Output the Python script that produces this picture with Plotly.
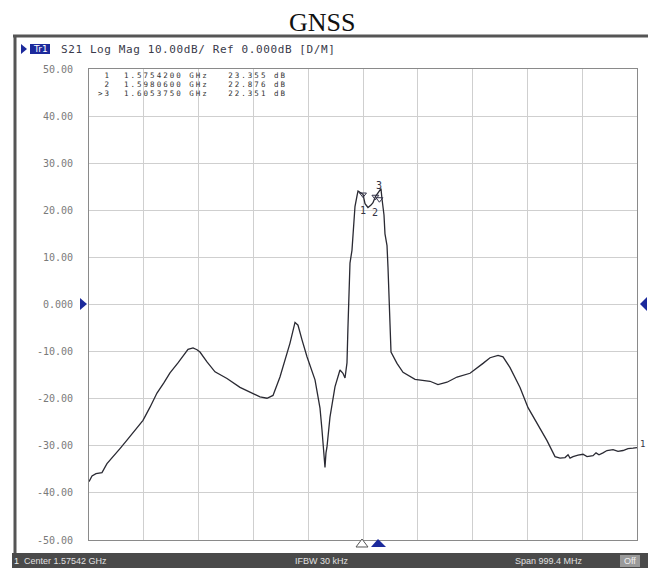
import plotly.graph_objects as go

# ---------------- data ----------------
freq_ghz = [1.0757, 1.0812, 1.0885, 1.0994, 1.1085, 1.1195, 1.1322, 1.1450, 1.1596, 1.1742,
            1.1870, 1.1997, 1.2125, 1.2234, 1.2380, 1.2490, 1.2563, 1.2654, 1.2727, 1.2781,
            1.2909, 1.3055, 1.3274, 1.3511, 1.3748, 1.3876, 1.4003, 1.4113, 1.4240, 1.4332,
            1.4423, 1.4514, 1.4569, 1.4642, 1.4733, 1.4879, 1.4970, 1.5006, 1.5043, 1.5061,
            1.5079, 1.5097, 1.5152, 1.5243, 1.5334, 1.5389, 1.5426, 1.5444, 1.5462, 1.5480,
            1.5498, 1.5517, 1.5553, 1.5571, 1.5589, 1.5608, 1.5644, 1.5663, 1.5699, 1.5754,
            1.5791, 1.5845, 1.5900, 1.5936, 1.5981, 1.6027, 1.6054, 1.6082, 1.6100, 1.6137,
            1.6155, 1.6192, 1.6210, 1.6229, 1.6247, 1.6265, 1.6374, 1.6484, 1.6703, 1.6976,
            1.7122, 1.7286, 1.7469, 1.7706, 1.7943, 1.8071, 1.8217, 1.8308, 1.8436, 1.8618,
            1.8764, 1.8928, 1.9110, 1.9256, 1.9348, 1.9439, 1.9494, 1.9530, 1.9585, 1.9676,
            1.9767, 1.9840, 1.9949, 2.0004, 2.0058, 2.0131, 2.0204, 2.0314, 2.0405, 2.0496,
            2.0587, 2.0678, 2.0751]
s21_db = [-37.6, -36.4, -35.9, -35.7, -33.8, -32.4, -30.6, -28.8, -26.6, -24.6,
          -21.8, -18.8, -16.6, -14.5, -12.4, -10.6, -9.5, -9.2, -9.6, -10.1,
          -12.2, -14.3, -15.7, -17.6, -18.8, -19.6, -19.9, -19.3, -15.4, -12.0,
          -8.2, -3.8, -4.4, -7.5, -11.1, -16.0, -22.0, -26.6, -31.0, -34.6,
          -31.5, -30.3, -23.9, -17.5, -13.9, -14.6, -15.6, -13.5, -12.4, -4.8,
          3.0, 8.8, 11.5, 14.3, 17.0, 20.8, 23.0, 24.1, 23.8, 23.4,
          21.4, 20.6, 21.1, 21.6, 22.9, 23.6, 24.2, 24.6, 22.5, 19.0,
          15.0, 12.5, 7.9, 1.0, -4.0, -10.1, -12.5, -14.4, -15.9, -16.3,
          -17.0, -16.5, -15.4, -14.6, -12.5, -11.3, -10.8, -11.1, -13.4, -17.6,
          -21.9, -25.3, -28.9, -32.3, -32.6, -32.5, -31.9, -32.6, -32.3, -32.0,
          -31.8, -32.3, -32.1, -31.5, -31.9, -31.5, -31.0, -30.8, -31.2, -31.0,
          -30.6, -30.5, -30.4]

marker_ids = ["1", "2", "3"]
marker_freq_ghz = [1.5754200, 1.5980600, 1.6053750]
marker_db = [23.355, 22.876, 22.351]

y_tick_vals = [50, 40, 30, 20, 10, 0, -10, -20, -30, -40, -50]
y_tick_text = ["50.00", "40.00", "30.00", "20.00", "10.00", "0.000",
               "-10.00", "-20.00", "-30.00", "-40.00", "-50.00"]

center_ghz = 1.57542
span_ghz = 0.9994
start_ghz = center_ghz - span_ghz / 2
stop_ghz = center_ghz + span_ghz / 2

header_text = "S21 Log Mag 10.00dB/ Ref 0.000dB [D/M]"
status_center = "Center 1.57542 GHz"
status_ifbw = "IFBW 30 kHz"
status_span = "Span 999.4 MHz"

# ---------------- layout geometry ----------------
# page body has an 8px margin; geometry below is in window pixels
OFF = 8
W, H = 656 - OFF, 572 - OFF
PL, PR, PT, PB = 89, 637, 69, 540  # plot area in window pixels


def px(x):
    return (x - PL) / (PR - PL)


def py(y):
    return (PB - y) / (PB - PT)


fig = go.Figure()

fig.add_trace(go.Scatter(
    x=freq_ghz, y=s21_db, mode="lines",
    line=dict(color="#2a2a33", width=1.3),
    hoverinfo="skip", showlegend=False))

# marker triangles
fig.add_trace(go.Scatter(
    x=marker_freq_ghz, y=marker_db, mode="markers",
    marker=dict(symbol="triangle-down-open", size=6, color="#33334a", line=dict(width=1)),
    hoverinfo="skip", showlegend=False))

mono = "DejaVu Sans Mono"
annotations = []
# marker labels near trace
label_offsets = [(0, -16), (0, -16), (0, 14)]
for mid, f, v, (dx, dy) in zip(marker_ids, marker_freq_ghz, marker_db, label_offsets):
    annotations.append(dict(x=f, y=v, xref="x", yref="y", text=mid, showarrow=False,
                            xshift=dx, yshift=dy, font=dict(family=mono, size=10, color="#333344")))

# marker table: small glyphs with wide letter spacing (instrument bitmap-font look)
row_y = [75.5, 84.5, 93.5]
n = len(marker_ids)
for i, (mid, f, v) in enumerate(zip(marker_ids, marker_freq_ghz, marker_db)):
    prefix = ">" if i == n - 1 else " "
    row = f"{prefix}{mid}  {f:.7f} GHz   {v:.3f} dB".replace(" ", "&nbsp;")
    annotations.append(dict(x=px(97), y=py(row_y[i]), xref="paper", yref="paper",
                            text=f'<span style="letter-spacing:2px">{row}</span>',
                            showarrow=False, xanchor="left", yanchor="middle", borderpad=0,
                            font=dict(family=mono, size=7.5, color="#333333")))

# title
annotations.append(dict(x=px(322), y=py(22.5), xref="paper", yref="paper", text="GNSS",
                        showarrow=False, xanchor="center", yanchor="middle",
                        font=dict(family="Liberation Serif", size=26, color="#111111")))
# header
annotations.append(dict(x=px(59), y=py(49), xref="paper", yref="paper",
                        text='<span style="letter-spacing:0.6px">'
                             + header_text.replace(" ", "&nbsp;") + "</span>",
                        showarrow=False, xanchor="left", yanchor="middle",
                        font=dict(family=mono, size=11, color="#3a3a4a")))
annotations.append(dict(x=px(40), y=py(49), xref="paper", yref="paper", text="Tr1",
                        showarrow=False, xanchor="center", yanchor="middle",
                        font=dict(family="DejaVu Sans", size=9, color="#ffffff")))
# status bar texts
sb_font = dict(family="Liberation Sans", size=9, color="#e0e0e0")
annotations.append(dict(x=px(22), y=py(561), xref="paper", yref="paper", text=status_center,
                        showarrow=False, xanchor="left", yanchor="middle", font=sb_font))
annotations.append(dict(x=px(322), y=py(561), xref="paper", yref="paper", text=status_ifbw,
                        showarrow=False, xanchor="center", yanchor="middle", font=sb_font))
annotations.append(dict(x=px(585), y=py(561), xref="paper", yref="paper", text=status_span,
                        showarrow=False, xanchor="right", yanchor="middle", font=sb_font))
annotations.append(dict(x=px(630), y=py(561), xref="paper", yref="paper", text="Off",
                        showarrow=False, xanchor="center", yanchor="middle",
                        font=dict(family="Liberation Sans", size=9, color="#f0f0f0")))
annotations.append(dict(x=px(16), y=py(561), xref="paper", yref="paper", text="1",
                        showarrow=False, xanchor="center", yanchor="middle",
                        font=dict(family="Liberation Sans", size=9, color="#f0f0f0")))
# end-of-trace marker "1"
annotations.append(dict(x=px(642), y=py(444), xref="paper", yref="paper", text="1",
                        showarrow=False, xanchor="center", yanchor="middle",
                        font=dict(family=mono, size=9, color="#333344")))


def tri(points):
    return "M " + " L ".join(f"{px(a):.5f},{py(b):.5f}" for a, b in points) + " Z"


shapes = [
    # outer instrument frame
    dict(type="line", xref="paper", yref="paper", x0=px(13), x1=px(651), y0=py(36), y1=py(36),
         line=dict(color="#555555", width=3)),
    dict(type="line", xref="paper", yref="paper", x0=px(15), x1=px(15), y0=py(36), y1=py(568),
         line=dict(color="#555555", width=3)),
    dict(type="line", xref="paper", yref="paper", x0=px(650), x1=px(650), y0=py(36), y1=py(568),
         line=dict(color="#555555", width=3)),
    # status bar
    dict(type="rect", xref="paper", yref="paper", x0=px(12), x1=px(652), y0=py(568), y1=py(553),
         fillcolor="#4a4a4a", line=dict(width=0)),
    dict(type="rect", xref="paper", yref="paper", x0=px(620), x1=px(640), y0=py(567), y1=py(555),
         fillcolor="#9a9a9a", line=dict(width=0)),
    # Tr1 box and triangle
    dict(type="rect", xref="paper", yref="paper", x0=px(30), x1=px(50), y0=py(54), y1=py(44),
         fillcolor="#1c2a9c", line=dict(width=0)),
    dict(type="path", xref="paper", yref="paper", path=tri([(21, 44), (27, 49), (21, 54)]),
         fillcolor="#1c2a9c", line=dict(width=0)),
    # reference level triangles
    dict(type="path", xref="paper", yref="paper", path=tri([(80, 298), (87, 304), (80, 310)]),
         fillcolor="#1c2a9c", line=dict(width=0)),
    dict(type="path", xref="paper", yref="paper", path=tri([(647, 297), (640, 304), (647, 311)]),
         fillcolor="#1c2a9c", line=dict(width=0)),
    # bottom stimulus triangles
    dict(type="path", xref="paper", yref="paper", path=tri([(356, 547), (362, 539), (368, 547)]),
         fillcolor="#ffffff", line=dict(color="#555555", width=1)),
    dict(type="path", xref="paper", yref="paper", path=tri([(371, 547), (378, 539), (386, 547)]),
         fillcolor="#1c2a9c", line=dict(width=0)),
]

fig.update_layout(
    width=W, height=H,
    margin=dict(l=PL - OFF, r=656 - PR, t=PT - OFF, b=572 - PB, pad=0),
    paper_bgcolor="#ffffff", plot_bgcolor="#ffffff",
    showlegend=False,
    annotations=annotations,
    shapes=shapes,
    xaxis=dict(range=[start_ghz, stop_ghz], tick0=start_ghz, dtick=span_ghz / 10,
               showticklabels=False, ticks="", showgrid=True, gridcolor="#cfcfcf", gridwidth=1,
               zeroline=False, showline=True, linecolor="#8a8a8a", linewidth=1, mirror=True,
               fixedrange=True),
    yaxis=dict(range=[-50, 50], tickmode="array", tickvals=y_tick_vals, ticktext=y_tick_text,
               ticks="", ticklabelstandoff=13, showgrid=True, gridcolor="#cfcfcf", gridwidth=1,
               zeroline=False, showline=True, linecolor="#8a8a8a", linewidth=1, mirror=True,
               tickfont=dict(family=mono, size=10, color="#7a7a7a"), fixedrange=True),
)

fig.write_html("out.html")
